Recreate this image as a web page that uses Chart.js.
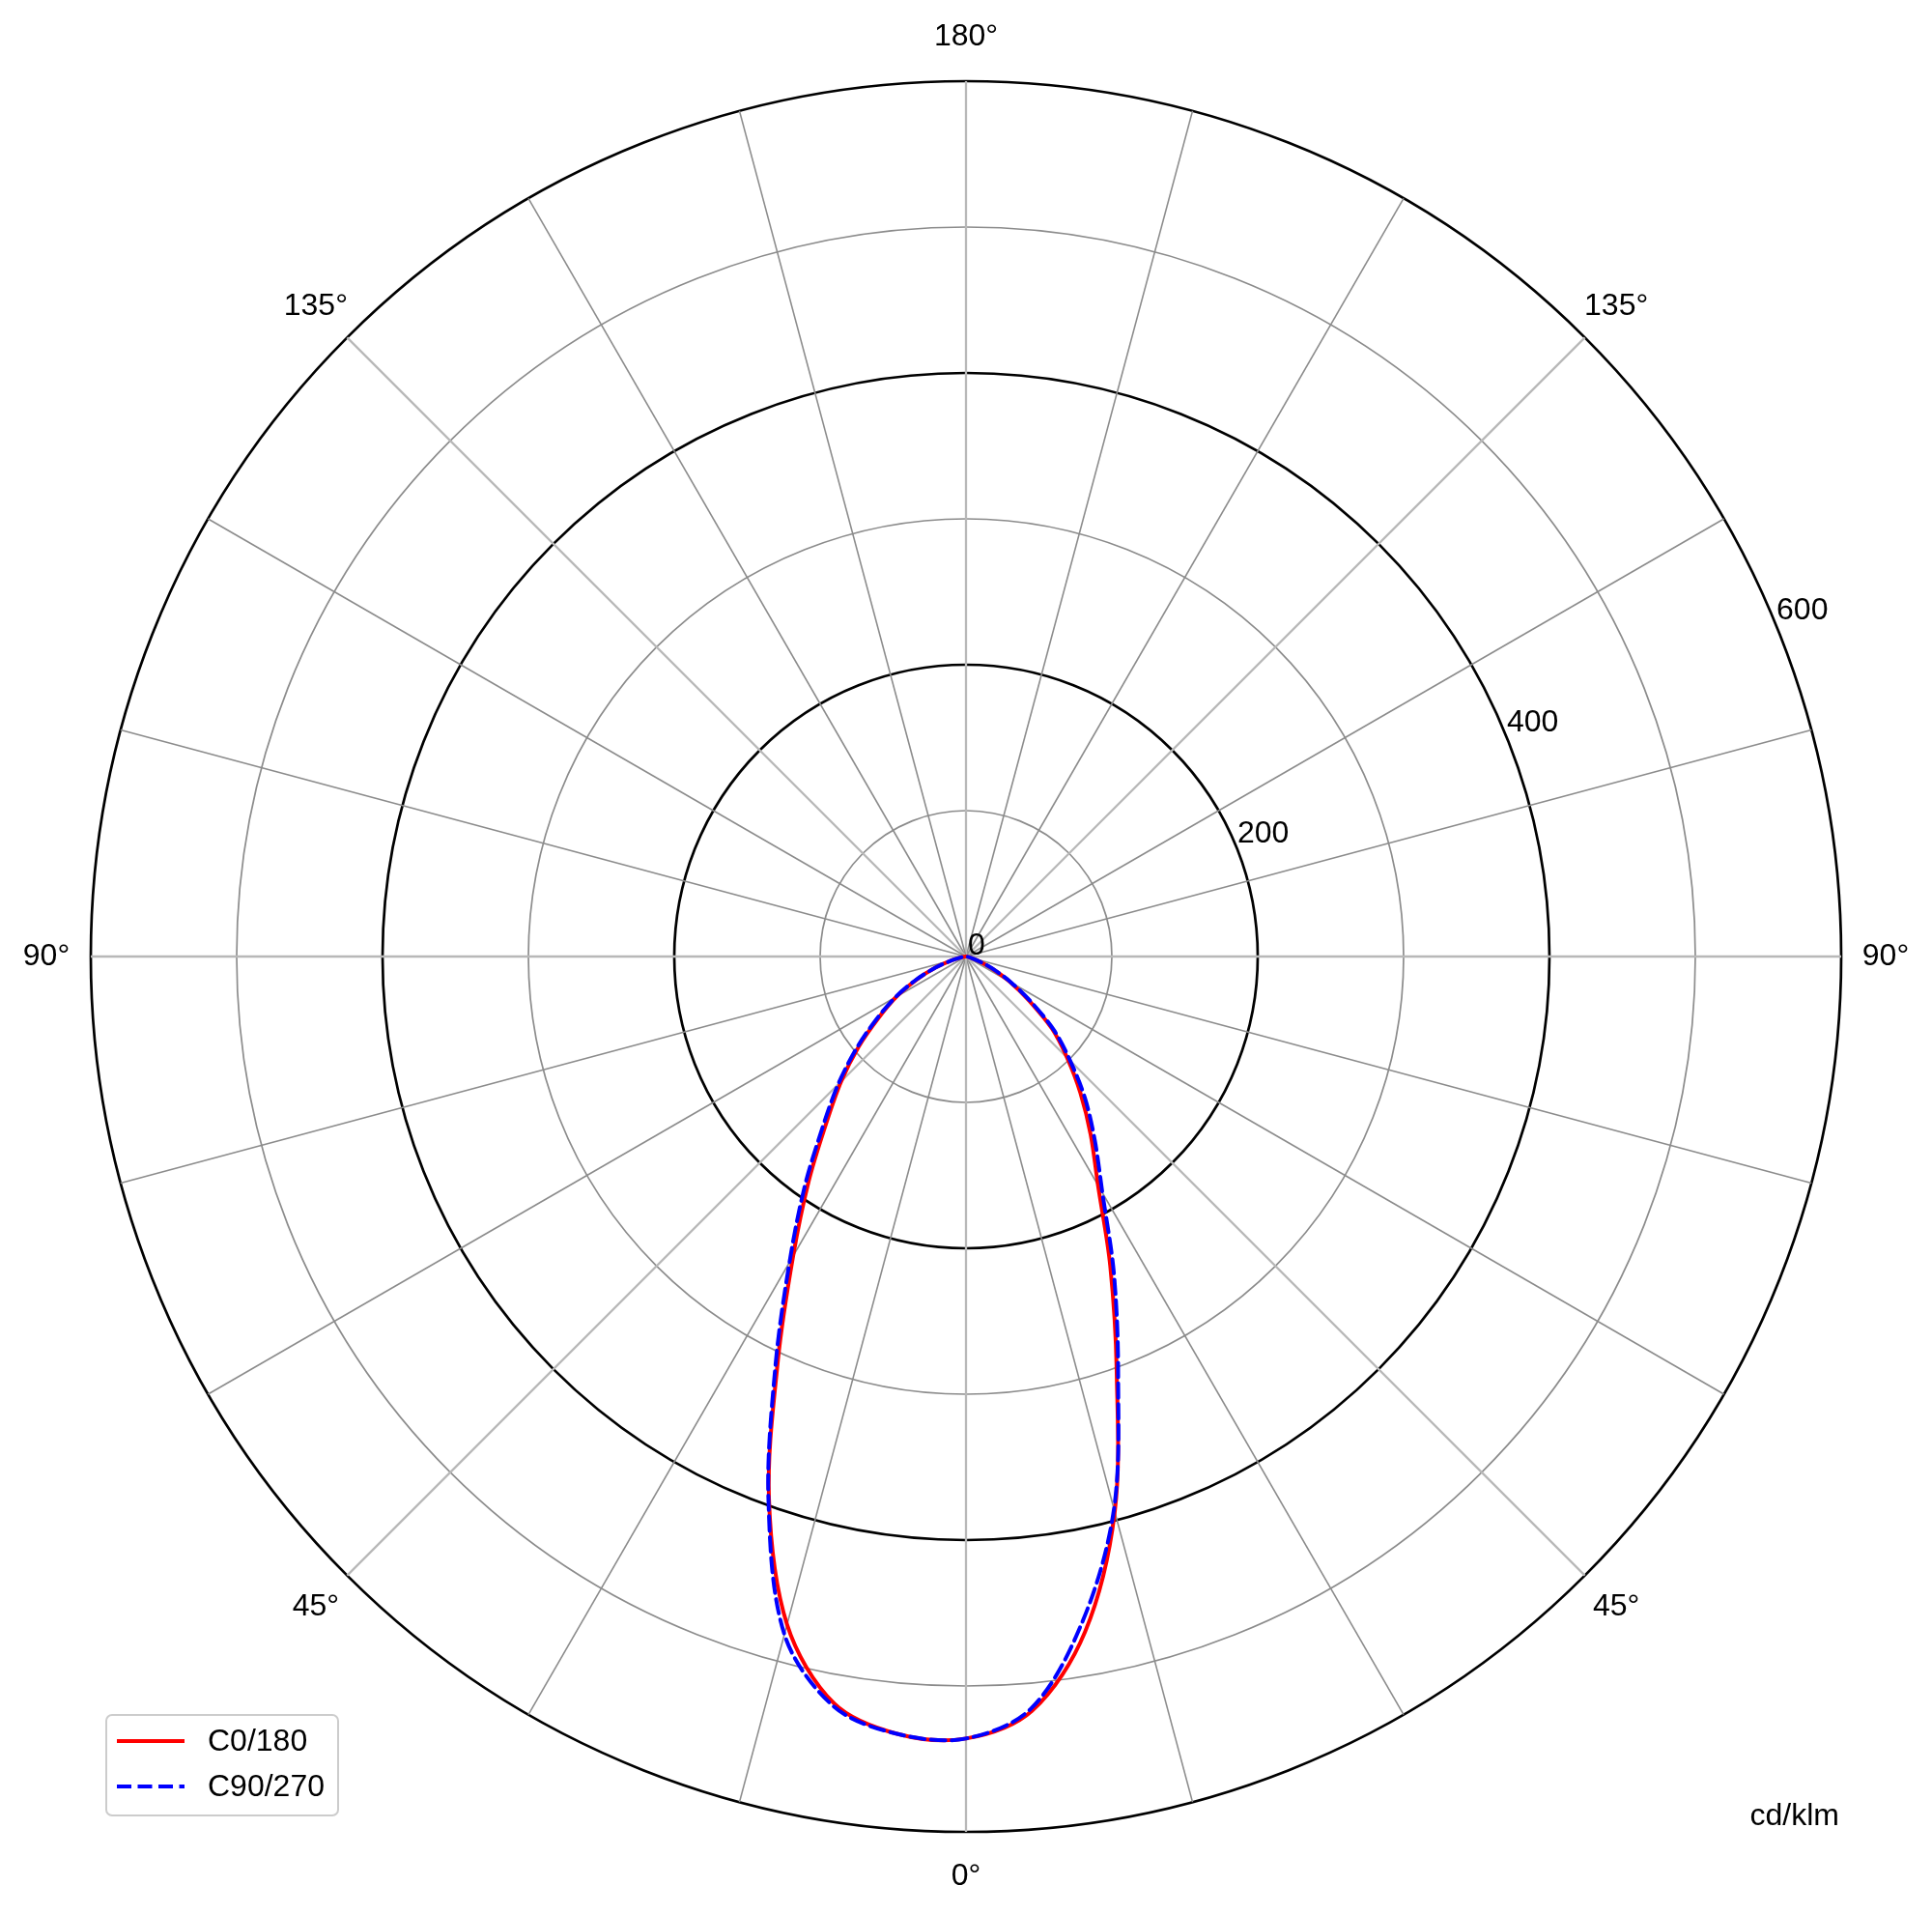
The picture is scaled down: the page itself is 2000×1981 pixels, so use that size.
<!DOCTYPE html>
<html>
<head>
<meta charset="utf-8">
<title>Luminous intensity</title>
<script src="https://cdn.jsdelivr.net/npm/chart.js@4.4.1/dist/chart.umd.min.js"></script>
<style>
  html, body { margin: 0; padding: 0; background: #fff; }
  canvas { display: block; }
</style>
</head>
<body>
<canvas id="polarChart" width="2000" height="1981"></canvas>
<script>
// gamma angles of each half plane, degrees from nadir
const gammaAngles = [0, 5, 10, 15, 20, 25, 30, 35, 40, 45, 50, 55, 60, 65, 70, 75, 80, 85, 90];

// cd/klm
const c0   = [536, 519, 470, 394, 302, 234, 181, 149, 122, 98, 77, 53, 35, 20, 10, 4, 1, 0, 0];   // right half
const c180 = [536, 535, 520, 474, 395, 305, 237, 188, 149, 121, 96, 73, 55, 37, 22, 10, 4, 1, 0]; // left half
const c90  = [536, 517, 462, 392, 305, 240, 187, 154, 127, 101, 79, 55, 36, 21, 10, 4, 1, 0, 0];  // right half
const c270 = [536, 535, 522, 481, 396, 309, 242, 193, 153, 124, 98, 75, 56, 38, 22, 10, 4, 1, 0]; // left half

const seriesNames = ["C0/180", "C90/270"];
const seriesColors = ["#ff0000", "#0000ff"];

const radialTicks = [0, 200, 400, 600];
const angleTickDeg = [0, 45, 90, 135, 180, 225, 270, 315];
const angleTickText = ["0°", "45°", "90°", "135°", "180°", "135°", "90°", "45°"];
const unitLabel = "cd/klm";

const STEP = 5;
const FONT = "32px 'Liberation Sans', Arial, sans-serif";

// one label per 5 degrees, going clockwise from the bottom
const labels = [];
for (let d = 0; d < 360; d += STEP) labels.push(d);

// left half goes down->left->up, upper hemisphere is empty, right half comes back down
function fullTurn(left, right) {
  return labels.map(d => {
    if (d <= 90) return left[gammaAngles.indexOf(d)];
    if (d >= 270) return right[gammaAngles.indexOf(360 - d)];
    return 0;
  });
}

const polarText = {
  id: "polarText",
  afterDraw(chart) {
    const ctx = chart.ctx;
    const r = chart.scales.r;
    ctx.save();
    ctx.fillStyle = "#000";
    ctx.font = FONT;

    // angle labels round the outside
    ctx.textAlign = "center";
    ctx.textBaseline = "middle";
    angleTickDeg.forEach((deg, i) => {
      const p = r.getPointPosition(deg / STEP, r.drawingArea + 46);
      ctx.fillText(angleTickText[i], p.x, p.y);
    });

    // radial labels along 22.5 deg above the right horizontal
    ctx.textAlign = "left";
    ctx.textBaseline = "alphabetic";
    radialTicks.forEach(v => {
      const p = r.getPointPosition((270 - 22.5) / STEP, r.getDistanceFromCenterForValue(v));
      ctx.fillText(String(v), p.x + 2, p.y - 2);
    });

    // unit
    ctx.textAlign = "right";
    ctx.fillText(unitLabel, r.xCenter + r.drawingArea - 2, r.yCenter + r.drawingArea - 7);

    // legend box, lower left
    const lx = 110, ly = chart.height - 206, lw = 240, lh = 104;
    ctx.beginPath();
    ctx.roundRect(lx, ly, lw, lh, 6);
    ctx.fillStyle = "rgba(255,255,255,0.8)";
    ctx.fill();
    ctx.strokeStyle = "#cccccc";
    ctx.lineWidth = 2;
    ctx.stroke();

    chart.data.datasets.forEach((ds, i) => {
      const y = ly + 27 + i * 47;
      ctx.beginPath();
      ctx.setLineDash(ds.borderDash || []);
      ctx.strokeStyle = ds.borderColor;
      ctx.lineWidth = ds.borderWidth;
      ctx.moveTo(lx + 11, y);
      ctx.lineTo(lx + 81, y);
      ctx.stroke();
      ctx.setLineDash([]);
      ctx.fillStyle = "#000";
      ctx.textAlign = "left";
      ctx.textBaseline = "middle";
      ctx.fillText(ds.label, lx + 105, y + 1);
    });
    ctx.restore();
  }
};

new Chart(document.getElementById("polarChart"), {
  type: "radar",
  data: {
    labels,
    datasets: [
      {
        label: seriesNames[0],
        data: fullTurn(c180, c0),
        borderColor: seriesColors[0],
        borderWidth: 4,
        fill: false,
        order: 2
      },
      {
        label: seriesNames[1],
        data: fullTurn(c270, c90),
        borderColor: seriesColors[1],
        borderWidth: 4,
        borderDash: [15, 6.5],
        fill: false,
        order: 1
      }
    ]
  },
  options: {
    responsive: false,
    devicePixelRatio: 1,
    animation: false,
    layout: { padding: 84 },
    elements: {
      point: { radius: 0, hoverRadius: 0 },
      line: { tension: 0.33, borderJoinStyle: "round", borderCapStyle: "round" }
    },
    plugins: {
      legend: { display: false },
      tooltip: { enabled: false }
    },
    scales: {
      r: {
        startAngle: 180,
        min: 0,
        max: 600,
        ticks: { display: false, stepSize: 100 },
        pointLabels: { display: false },
        grid: {
          circular: true,
          color: c => (c.tick && c.tick.value % 200 === 0) ? "#000000" : "#8c8c8c",
          lineWidth: c => (c.tick && c.tick.value % 200 === 0) ? 2.7 : 1.7
        },
        angleLines: {
          color: c => (c.index * STEP) % 45 === 0 ? "#b8b8b8" : "#8c8c8c",
          lineWidth: c => {
            const deg = c.index * STEP;
            if (deg % 45 === 0) return 2.3;
            if (deg % 15 === 0) return 1.6;
            return 0;
          }
        }
      }
    }
  },
  plugins: [polarText]
});
</script>
</body>
</html>
